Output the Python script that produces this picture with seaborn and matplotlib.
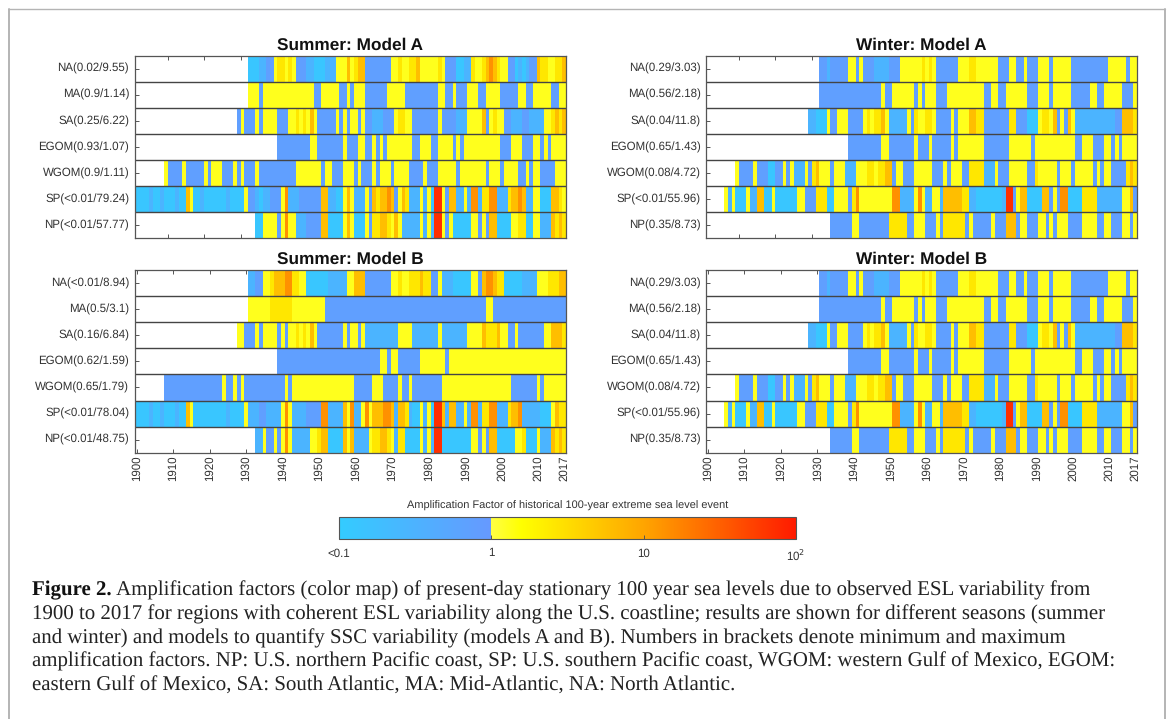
import numpy as np
import pandas as pd
import matplotlib
matplotlib.use('Agg')
import matplotlib.pyplot as plt
import seaborn as sns
from matplotlib.colors import LinearSegmentedColormap, LogNorm
from matplotlib.cm import ScalarMappable
from matplotlib.lines import Line2D

# amplification factors
C, M, B, Y, G, O, D, R = 0.13, 0.3, 0.75, 1.3, 2.6, 6, 14, 70

years = list(range(1900, 2018))
year_ticks = [1900, 1910, 1920, 1930, 1940, 1950, 1960, 1970, 1980, 1990, 2000, 2010, 2017]

labels_summer_a = ['NA(0.02/9.55)', 'MA(0.9/1.14)', 'SA(0.25/6.22)', 'EGOM(0.93/1.07)',
                   'WGOM(0.9/1.11)', 'SP(<0.01/79.24)', 'NP(<0.01/57.77)']
labels_summer_b = ['NA(<0.01/8.94)', 'MA(0.5/3.1)', 'SA(0.16/6.84)', 'EGOM(0.62/1.59)',
                   'WGOM(0.65/1.79)', 'SP(<0.01/78.04)', 'NP(<0.01/48.75)']
labels_winter = ['NA(0.29/3.03)', 'MA(0.56/2.18)', 'SA(0.04/11.8)', 'EGOM(0.65/1.43)',
                 'WGOM(0.08/4.72)', 'SP(<0.01/55.96)', 'NP(0.35/8.73)']

# each row: (years after 1900 where a run starts, factor of that run)
summer_a_na = [(31, C), (34, M), (36, B), (38, Y), (39, G), (41, Y), (42, G), (43, Y), (44, B), (47, M), (49, C),
               (52, M), (55, Y), (58, O), (59, Y), (60, G), (61, O), (63, B), (70, Y), (72, G), (73, Y), (75, G),
               (77, O), (78, Y), (83, G), (84, Y), (85, B), (88, C), (90, M), (92, G), (93, Y), (95, G), (96, O),
               (97, D), (98, O), (99, G), (100, Y), (102, B), (104, C), (105, M), (106, C), (107, M), (108, B),
               (110, O), (111, G), (113, Y), (115, G), (117, O)]
summer_a_ma = [(31, Y), (34, B), (35, Y), (49, B), (51, Y), (56, B), (58, Y), (59, B), (60, Y), (63, B), (69, Y),
               (74, B), (83, Y), (85, B), (87, Y), (88, B), (91, Y), (94, B), (96, Y), (100, B), (105, Y), (107, B),
               (109, Y), (114, B), (116, Y)]
summer_a_sa = [(28, B), (29, Y), (30, B), (33, Y), (34, B), (35, Y), (39, B), (42, Y), (44, G), (45, Y), (46, G),
               (47, Y), (48, O), (49, Y), (50, B), (55, Y), (56, B), (57, Y), (58, B), (59, Y), (61, B), (62, Y),
               (63, B), (65, M), (68, B), (71, Y), (72, G), (74, Y), (76, B), (83, Y), (84, B), (88, M), (91, Y),
               (95, O), (96, B), (97, Y), (98, G), (99, Y), (101, B), (103, M), (106, B), (108, M), (112, Y),
               (114, G), (115, O), (116, G), (117, O)]
summer_a_egom = [(39, B), (48, Y), (50, B), (57, Y), (58, B), (61, Y), (63, B), (65, Y), (66, B), (67, Y), (68, B),
                 (69, Y), (76, B), (78, Y), (81, B), (83, Y), (87, B), (88, Y), (89, B), (90, Y), (100, B), (103, Y),
                 (106, B), (109, Y), (111, B), (112, Y), (113, B), (114, Y)]
summer_a_wgom = [(8, Y), (9, B), (13, Y), (14, B), (19, Y), (20, B), (21, Y), (24, B), (27, Y), (28, B), (29, Y),
                 (30, B), (33, Y), (34, B), (44, Y), (51, B), (52, Y), (54, B), (57, Y), (60, B), (61, Y), (62, B),
                 (65, Y), (66, B), (67, Y), (70, B), (71, Y), (75, B), (79, Y), (80, B), (83, Y), (88, B), (89, Y),
                 (96, B), (97, Y), (100, B), (101, Y), (105, B), (107, Y), (108, B), (109, Y), (111, B), (115, Y)]
summer_a_sp = [(0, C), (4, M), (5, C), (7, M), (8, C), (11, M), (12, C), (14, O), (15, Y), (16, C), (18, M), (19, C),
               (25, M), (26, C), (30, Y), (31, B), (33, M), (34, C), (35, M), (37, B), (40, Y), (41, D), (42, M),
               (45, B), (51, O), (53, M), (55, C), (57, Y), (58, O), (59, Y), (60, M), (63, Y), (64, B), (65, O),
               (66, G), (67, O), (69, D), (70, O), (71, B), (72, Y), (73, O), (74, G), (75, M), (78, Y), (79, M),
               (80, Y), (81, C), (82, R), (84, Y), (85, B), (86, O), (88, M), (90, Y), (91, M), (92, D), (94, M),
               (95, G), (97, D), (99, M), (102, G), (103, O), (105, D), (106, O), (107, M), (109, Y), (111, C),
               (114, O), (116, G), (117, Y)]
summer_a_np = [(33, C), (35, Y), (39, B), (40, Y), (41, D), (42, Y), (44, M), (47, B), (51, O), (53, C), (57, Y),
               (58, O), (59, Y), (60, C), (63, Y), (64, B), (65, G), (67, O), (69, G), (70, Y), (71, O), (72, Y),
               (73, M), (78, Y), (79, M), (80, Y), (81, M), (82, R), (84, Y), (85, B), (86, Y), (87, C), (92, Y),
               (94, B), (95, Y), (96, B), (97, O), (99, C), (103, Y), (105, G), (107, C), (109, Y), (111, M),
               (114, O), (115, G), (116, O), (117, G)]

summer_b_na = [(31, M), (33, B), (35, Y), (37, G), (38, O), (41, D), (43, G), (45, Y), (47, C), (53, M), (58, Y),
               (60, O), (63, B), (70, Y), (72, G), (73, Y), (75, G), (78, O), (79, G), (81, B), (83, Y), (84, M),
               (87, C), (92, Y), (94, B), (95, O), (96, D), (98, O), (99, G), (101, C), (106, M), (110, Y), (113, G),
               (116, O)]
summer_b_ma = [(31, Y), (37, G), (43, Y), (52, B), (96, Y), (98, B)]
summer_b_sa = [(28, Y), (30, B), (33, Y), (34, B), (35, Y), (39, B), (40, Y), (41, B), (42, Y), (44, G), (45, Y),
               (46, G), (47, Y), (48, O), (49, Y), (50, B), (57, Y), (58, B), (59, Y), (61, B), (62, Y), (63, M),
               (72, Y), (76, M), (83, Y), (84, M), (91, Y), (95, O), (96, G), (99, O), (100, Y), (102, B), (104, Y),
               (105, B), (112, Y), (114, O), (117, G)]
summer_b_egom = [(39, B), (67, Y), (69, B), (70, Y), (72, B), (78, Y), (85, B), (86, Y)]
summer_b_wgom = [(8, B), (24, Y), (25, B), (27, Y), (28, B), (29, Y), (30, B), (41, Y), (42, B), (43, Y), (60, B),
                 (65, Y), (68, B), (72, Y), (73, B), (75, Y), (76, B), (84, Y), (103, B), (110, Y), (111, B), (112, Y)]
summer_b_sp = [(0, C), (4, M), (5, C), (7, M), (8, C), (11, M), (12, C), (14, O), (15, Y), (16, C), (25, M), (26, C),
               (30, Y), (31, M), (34, B), (36, M), (40, Y), (41, D), (42, Y), (43, M), (47, B), (51, D), (53, M),
               (57, O), (58, Y), (59, D), (60, M), (62, Y), (63, D), (64, Y), (65, O), (68, D), (70, O), (71, M),
               (72, O), (74, G), (75, M), (76, C), (78, Y), (79, M), (80, Y), (81, C), (82, R), (84, O), (85, M),
               (86, O), (88, M), (90, Y), (91, M), (92, D), (94, M), (95, G), (97, D), (99, M), (102, G), (103, O),
               (105, D), (106, M), (111, C), (114, Y), (115, O), (116, G)]
summer_b_np = [(33, M), (35, Y), (36, B), (38, Y), (39, B), (40, Y), (41, D), (42, Y), (43, M), (48, Y), (50, G),
               (51, O), (53, C), (57, O), (58, Y), (59, O), (60, M), (64, Y), (65, G), (67, O), (69, G), (70, Y),
               (71, M), (72, G), (74, C), (78, Y), (79, M), (80, Y), (81, M), (82, R), (84, C), (92, Y), (94, B),
               (95, Y), (96, B), (97, O), (99, C), (104, Y), (106, G), (107, C), (110, Y), (111, M), (114, O),
               (115, G), (116, O), (117, G)]

winter_na = [(31, B), (33, M), (34, B), (39, Y), (41, B), (42, Y), (43, B), (46, M), (50, B), (53, Y), (59, G), (60, Y),
             (61, G), (62, Y), (63, B), (69, Y), (72, G), (74, Y), (80, B), (83, Y), (85, B), (87, Y), (88, B), (91, Y),
             (94, B), (95, Y), (100, B), (110, Y), (115, B), (116, Y)]
winter_ma = [(31, B), (48, Y), (49, B), (51, Y), (57, B), (58, Y), (59, B), (60, Y), (63, B), (66, Y), (76, B), (78, Y),
             (80, B), (82, Y), (88, B), (91, Y), (94, B), (95, Y), (100, B), (105, Y), (107, B), (109, Y), (114, B),
             (117, Y)]
winter_sa = [(28, M), (30, C), (33, Y), (34, B), (36, Y), (39, B), (43, Y), (44, G), (45, Y), (46, G), (48, O), (49, Y),
             (50, M), (55, Y), (56, B), (57, G), (58, Y), (60, G), (62, Y), (63, B), (67, Y), (68, B), (69, Y), (72, O),
             (74, G), (76, B), (83, G), (85, B), (88, C), (91, Y), (92, G), (94, Y), (95, O), (96, B), (97, Y), (98, B),
             (99, O), (100, Y), (101, M), (112, B), (114, O), (117, G)]
winter_egom = [(39, B), (48, Y), (50, B), (57, Y), (58, B), (61, Y), (62, B), (67, Y), (68, B), (69, Y), (76, B), (83, Y),
               (89, B), (90, Y), (101, B), (103, Y), (106, B), (109, Y), (111, B), (112, Y), (113, B), (114, Y)]
winter_wgom = [(8, Y), (9, B), (13, Y), (14, B), (17, C), (19, B), (21, Y), (22, B), (23, Y), (24, M), (27, Y), (28, B),
               (29, G), (30, O), (31, Y), (34, B), (35, Y), (38, M), (41, Y), (44, G), (46, Y), (47, G), (49, O), (51, B),
               (52, Y), (54, B), (57, Y), (62, B), (65, Y), (66, B), (67, Y), (70, B), (72, G), (76, M), (79, Y), (80, B),
               (83, Y), (88, B), (90, G), (91, Y), (96, B), (97, Y), (100, B), (101, Y), (106, B), (107, Y), (108, B),
               (109, Y), (111, B), (115, G), (116, O), (117, G)]
winter_sp = [(5, Y), (6, M), (7, Y), (8, C), (11, Y), (12, M), (14, O), (16, C), (18, Y), (19, C), (25, Y), (27, B),
             (30, G), (33, C), (35, Y), (39, B), (40, G), (41, D), (42, Y), (51, D), (53, M), (57, Y), (58, D), (59, Y),
             (60, M), (62, Y), (64, M), (65, O), (70, G), (72, M), (74, C), (81, M), (82, R), (84, B), (85, Y), (86, O),
             (88, C), (92, O), (94, B), (95, Y), (96, B), (97, D), (99, C), (103, G), (107, M), (114, Y), (116, O), (117, B)]
winter_np = [(34, B), (40, Y), (42, B), (50, G), (55, B), (57, Y), (60, B), (63, Y), (64, B), (65, G), (71, B), (72, Y),
             (73, B), (78, Y), (79, B), (82, O), (85, B), (86, Y), (88, B), (91, Y), (93, B), (94, Y), (95, B), (96, Y),
             (99, B), (103, Y), (107, B), (109, Y), (111, B), (114, Y), (116, B), (117, Y)]

summer_a = [summer_a_na, summer_a_ma, summer_a_sa, summer_a_egom, summer_a_wgom, summer_a_sp, summer_a_np]
summer_b = [summer_b_na, summer_b_ma, summer_b_sa, summer_b_egom, summer_b_wgom, summer_b_sp, summer_b_np]
winter = [winter_na, winter_ma, winter_sa, winter_egom, winter_wgom, winter_sp, winter_np]

caption_lines = [
    ' Amplification factors (color map) of present-day stationary 100 year sea levels due to observed ESL variability from',
    '1900 to 2017 for regions with coherent ESL variability along the U.S. coastline; results are shown for different seasons (summer',
    'and winter) and models to quantify SSC variability (models A and B). Numbers in brackets denote minimum and maximum',
    'amplification factors. NP: U.S. northern Pacific coast, SP: U.S. southern Pacific coast, WGOM: western Gulf of Mexico, EGOM:',
    'eastern Gulf of Mexico, SA: South Atlantic, MA: Mid-Atlantic, NA: North Atlantic.',
]

W, H = 1171, 719
TXT = '#333333'
EDGE = '#555555'

sns.set_theme(style='white')
plt.rcParams['font.family'] = ['Liberation Sans', 'DejaVu Sans']
plt.rcParams['text.hinting'] = 'no_hinting'

cmap = LinearSegmentedColormap.from_list('esl', [
    (0.0, '#33ccff'), (0.3325, '#6699ff'), (0.3335, '#ffff44'), (0.40, '#ffff00'),
    (2 / 3, '#ffa500'), (1.0, '#ff1a00')], N=1024)
norm = LogNorm(vmin=0.1, vmax=100)


def expand(runs):
    row = np.full(len(years), np.nan)
    for i, (start, factor) in enumerate(runs):
        end = runs[i + 1][0] if i + 1 < len(runs) else len(years)
        row[start:end] = factor
    return row


def box(x0, y0, x1, y1):
    return [x0 / W, 1 - y1 / H, (x1 - x0) / W, (y1 - y0) / H]


def panel(rows, labels, title, pos, bottom):
    ax = fig.add_axes(box(*pos))
    df = pd.DataFrame([expand(r) for r in rows], index=labels, columns=years)
    sns.heatmap(df, ax=ax, mask=df.isna(), cmap=cmap, norm=norm, cbar=False,
                xticklabels=False, yticklabels=labels)
    ax.set_axisbelow(True)
    ax.hlines(range(1, len(rows)), 0, len(years), color='#444444', lw=1.0, zorder=3)
    for s in ax.spines.values():
        s.set_visible(True)
        s.set_color(EDGE)
        s.set_linewidth(0.9)
        s.set_zorder(4)
    ax.tick_params(axis='y', left=True, direction='in', length=3, width=0.7, color=EDGE,
                   labelsize=8.3, labelcolor=TXT, pad=4, labelrotation=0)
    if bottom:
        ax.set_xticks([y - 1900 + 0.5 for y in year_ticks])
        ax.set_xticklabels(year_ticks, rotation=90)
    else:
        ax.set_xticks([9, 19, 29])
        ax.set_xticklabels([])
    ax.tick_params(axis='x', bottom=True, top=True, direction='in', length=3, width=0.7, color=EDGE,
                   labelsize=8.3, labelcolor=TXT, pad=1.8)
    ax.set_xlabel('')
    ax.set_ylabel('')
    ax.set_title(title, fontsize=12.4, fontweight='bold', color='#111111', pad=4.5)


fig = plt.figure(figsize=(W / 100, H / 100), dpi=100, facecolor='white')

panel(summer_a, labels_summer_a, 'Summer: Model A', (134.7, 55.7, 566, 238.3), False)
panel(winter, labels_winter, 'Winter: Model A', (706, 55.7, 1137, 238.3), False)
panel(summer_b, labels_summer_b, 'Summer: Model B', (134.7, 270, 566, 452.7), True)
panel(winter, labels_winter, 'Winter: Model B', (706, 270, 1137, 452.7), True)

# colour bar
cax = fig.add_axes(box(338.5, 516.7, 796, 538.7))
cb = fig.colorbar(ScalarMappable(norm=norm, cmap=cmap), cax=cax, orientation='horizontal')
cb.set_ticks([0.1, 1, 10, 100])
cb.set_ticklabels(['<0.1', '1', '10', r'10$^{2}$'])
cb.minorticks_off()
cb.outline.set_edgecolor(EDGE)
cb.outline.set_linewidth(0.8)
cax.set_axisbelow(False)
cax.tick_params(axis='x', which='major', direction='in', length=3, width=0.7, color=EDGE,
                labelsize=8.3, labelcolor=TXT, pad=6.5)
cax.set_title('Amplification Factor of historical 100-year extreme sea level event',
              fontsize=7.9, color=TXT, pad=5.5)

# outer frame of the figure box
frame = '#b4b4b4'
fig.add_artist(Line2D([8.5 / W, 8.5 / W], [0, 1 - 8.5 / H], color=frame, lw=1.4))
fig.add_artist(Line2D([8.5 / W, 1165 / W], [1 - 8.5 / H, 1 - 8.5 / H], color=frame, lw=1.0))
fig.add_artist(Line2D([1165 / W, 1165 / W], [0, 1 - 8.5 / H], color=frame, lw=1.4))

# caption
serif = ['Liberation Serif', 'DejaVu Serif']
cap_y = [595, 619, 643, 667, 691]
cap_size = 15.0
bold = fig.text(32 / W, 1 - cap_y[0] / H, 'Figure 2.', family=serif, fontsize=cap_size, fontweight='bold',
                color='#111111', va='baseline')
fig.canvas.draw()
bold_end = bold.get_window_extent().x1
fig.text(bold_end / W, 1 - cap_y[0] / H, caption_lines[0], family=serif, fontsize=cap_size, color='#222222', va='baseline')
for line, y in zip(caption_lines[1:], cap_y[1:]):
    fig.text(32 / W, 1 - y / H, line, family=serif, fontsize=cap_size, color='#222222', va='baseline')

fig.savefig('out.png', dpi=100)
